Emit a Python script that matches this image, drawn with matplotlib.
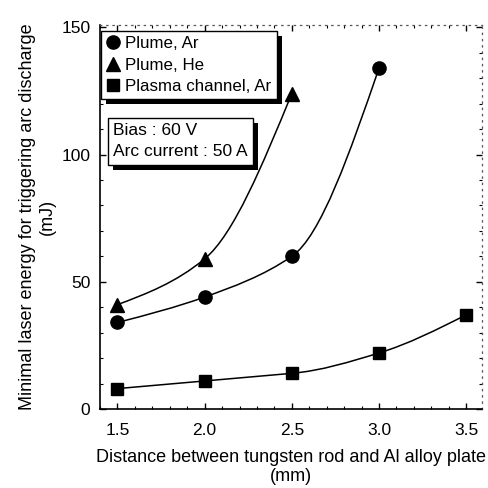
import numpy as np
import matplotlib
matplotlib.use("Agg")
import matplotlib.pyplot as plt
from matplotlib.path import Path
from matplotlib.patches import PathPatch, Rectangle
from matplotlib.ticker import MultipleLocator

plt.rcParams['font.family'] = ['Liberation Sans', 'DejaVu Sans']

# ---- data ----
x_ar = [1.5, 2.0, 2.5, 3.0]
y_ar = [34, 44, 60, 134]
x_he = [1.5, 2.0, 2.5]
y_he = [41, 59, 124]
x_pc = [1.5, 2.0, 2.5, 3.0, 3.5]
y_pc = [8, 11, 14, 22, 37]
labels = ["Plume, Ar", "Plume, He", "Plasma channel, Ar"]
xticks = [1.5, 2.0, 2.5, 3.0, 3.5]
yticks = [0, 50, 100, 150]
note = "Bias : 60 V\nArc current : 50 A"
xlabel = "Distance between tungsten rod and Al alloy plate\n(mm)"
ylabel = "Minimal laser energy for triggering arc discharge\n(mJ)"


def smooth_path(xs, ys):
    """Convex-preserving cubic Bezier path through the data points."""
    xs = np.asarray(xs, float)
    ys = np.asarray(ys, float)
    n = len(xs)
    h = np.diff(xs)
    s = np.diff(ys) / h
    m = np.zeros(n)
    for i in range(1, n - 1):
        a, b = s[i - 1], s[i]
        m[i] = 2 * a * b / (a + b) if a * b > 0 else 0.0
    if n > 2:
        m[0] = (3 * s[0] - m[1]) / 2
        for i in range(1, n - 1):
            m[i] = min(m[i], 3 * s[i - 1] - 2 * m[i - 1])
        m[-1] = (3 * s[-1] - m[-2]) / 2
    else:
        m[:] = s[0]
    verts = [(xs[0], ys[0])]
    codes = [Path.MOVETO]
    for i in range(n - 1):
        verts += [(xs[i] + h[i] / 3, ys[i] + m[i] * h[i] / 3),
                  (xs[i + 1] - h[i] / 3, ys[i + 1] - m[i + 1] * h[i] / 3),
                  (xs[i + 1], ys[i + 1])]
        codes += [Path.CURVE4] * 3
    return Path(verts, codes)


fig = plt.figure(figsize=(4.89, 4.88), dpi=100)
ax = fig.add_axes([0.2045, 0.162, 0.781, 0.787])

for xs, ys, mk, lab, ms in [(x_ar, y_ar, 'o', labels[0], 9.5),
                            (x_he, y_he, '^', labels[1], 9.5),
                            (x_pc, y_pc, 's', labels[2], 9)]:
    ax.add_patch(PathPatch(smooth_path(xs, ys), facecolor='none',
                           edgecolor='black', lw=1.1, zorder=2))
    ax.plot(xs, ys, linestyle='none', marker=mk, color='black',
            markersize=ms, label=lab, zorder=3)

ax.set_xlim(1.4, 3.59)
ax.set_ylim(0, 151)
ax.set_xticks(xticks)
ax.set_xticklabels([f"{v:.1f}" for v in xticks])
ax.set_yticks(yticks)
ax.xaxis.set_minor_locator(MultipleLocator(0.1))
ax.yaxis.set_minor_locator(MultipleLocator(10))
ax.tick_params(which='both', direction='in', top=True, right=True,
               labelsize=12.5)
ax.tick_params(axis='x', pad=10)
ax.tick_params(axis='y', pad=7)
ax.tick_params(which='major', length=4, width=1)
ax.tick_params(which='minor', length=2, width=0.8)

for sp in ['left', 'bottom']:
    ax.spines[sp].set_linewidth(1.2)
for sp in ['top', 'right']:
    ax.spines[sp].set_linewidth(0.9)
    ax.spines[sp].set_linestyle((0, (1, 4)))
    ax.spines[sp].set_color('#555555')

ax.set_xlabel(xlabel, fontsize=13, labelpad=8, linespacing=1.15)
ax.set_ylabel(ylabel, fontsize=13, labelpad=4, linespacing=1.2)

leg = ax.legend(loc='upper left', bbox_to_anchor=(0.003, 0.985),
                frameon=True, fancybox=False, edgecolor='black',
                fontsize=12.2, handlelength=0.8, handletextpad=0.3,
                labelspacing=0.38, borderpad=0.32, borderaxespad=0.0,
                framealpha=1)
leg.get_frame().set_linewidth(1.0)
leg.set_zorder(5)

txt = ax.text(0.035, 0.745, note, transform=ax.transAxes, fontsize=12.5,
              va='top', ha='left', linespacing=1.55, zorder=7,
              bbox=dict(boxstyle='square,pad=0.3', facecolor='white',
                        edgecolor='black', linewidth=1.0))

# solid black drop shadows behind the boxes
fig.canvas.draw()
r = fig.canvas.get_renderer()
inv = ax.transAxes.inverted()
for artist, z in [(leg, 4.5), (txt.get_bbox_patch(), 6.5)]:
    bb = artist.get_window_extent(r)
    x0, y0 = inv.transform((bb.x0 + 5, bb.y0 - 5))
    x1, y1 = inv.transform((bb.x1 + 5, bb.y1 - 5))
    ax.add_patch(Rectangle((x0, y0), x1 - x0, y1 - y0,
                           transform=ax.transAxes, facecolor='black',
                           edgecolor='none', zorder=z, clip_on=False))

fig.savefig("out.png", dpi=100)
